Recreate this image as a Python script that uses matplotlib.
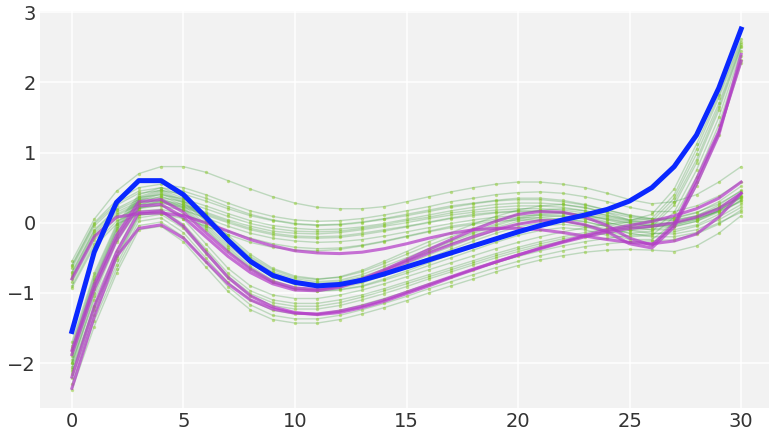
import numpy as np
import matplotlib.pyplot as plt

x = np.arange(31)

upper_samples = [
    [-0.55, 0.05, 0.45, 0.7, 0.8, 0.8, 0.72, 0.6, 0.48, 0.37, 0.28, 0.22, 0.2, 0.2, 0.23, 0.3, 0.37, 0.44, 0.5, 0.55, 0.58, 0.58, 0.55, 0.5, 0.42, 0.33, 0.27, 0.3, 0.4, 0.58, 0.8],
    [-0.6, 0.0, 0.32, 0.5, 0.55, 0.5, 0.4, 0.28, 0.17, 0.09, 0.04, 0.02, 0.03, 0.06, 0.11, 0.17, 0.23, 0.3, 0.35, 0.4, 0.43, 0.44, 0.42, 0.37, 0.3, 0.22, 0.16, 0.16, 0.24, 0.38, 0.58],
    [-0.65, -0.05, 0.25, 0.42, 0.46, 0.41, 0.31, 0.2, 0.1, 0.03, -0.02, -0.04, -0.03, 0.0, 0.05, 0.1, 0.16, 0.22, 0.27, 0.31, 0.33, 0.33, 0.3, 0.25, 0.18, 0.11, 0.06, 0.06, 0.14, 0.3, 0.52],
    [-0.7, -0.1, 0.2, 0.36, 0.4, 0.34, 0.24, 0.13, 0.03, -0.04, -0.08, -0.1, -0.09, -0.06, -0.01, 0.05, 0.11, 0.17, 0.22, 0.26, 0.28, 0.28, 0.26, 0.21, 0.15, 0.08, 0.03, 0.03, 0.1, 0.25, 0.46],
    [-0.75, -0.15, 0.15, 0.3, 0.32, 0.26, 0.15, 0.04, -0.05, -0.12, -0.15, -0.16, -0.14, -0.1, -0.05, 0.0, 0.06, 0.11, 0.15, 0.18, 0.2, 0.2, 0.18, 0.14, 0.08, 0.02, -0.02, -0.01, 0.07, 0.22, 0.42],
    [-0.8, -0.2, 0.1, 0.26, 0.28, 0.22, 0.11, 0.0, -0.1, -0.17, -0.21, -0.22, -0.21, -0.17, -0.12, -0.06, 0.0, 0.06, 0.1, 0.14, 0.16, 0.16, 0.14, 0.1, 0.05, -0.01, -0.05, -0.05, 0.02, 0.17, 0.38],
    [-0.85, -0.25, 0.06, 0.22, 0.24, 0.18, 0.07, -0.05, -0.15, -0.22, -0.26, -0.28, -0.27, -0.24, -0.19, -0.13, -0.07, -0.01, 0.04, 0.08, 0.1, 0.11, 0.09, 0.05, 0.0, -0.06, -0.1, -0.1, -0.03, 0.12, 0.32],
    [-0.9, -0.3, 0.02, 0.17, 0.19, 0.12, 0.0, -0.12, -0.22, -0.3, -0.35, -0.37, -0.36, -0.32, -0.26, -0.19, -0.12, -0.05, 0.0, 0.05, 0.07, 0.07, 0.05, 0.01, -0.05, -0.11, -0.15, -0.16, -0.1, 0.04, 0.22],
    [-0.93, -0.34, -0.02, 0.12, 0.13, 0.06, -0.05, -0.17, -0.28, -0.35, -0.39, -0.4, -0.38, -0.33, -0.27, -0.2, -0.13, -0.07, -0.02, 0.02, 0.04, 0.04, 0.02, -0.03, -0.09, -0.15, -0.2, -0.2, -0.14, 0.0, 0.15],
    [-0.62, -0.02, 0.28, 0.45, 0.5, 0.45, 0.35, 0.23, 0.12, 0.04, -0.01, -0.03, -0.02, 0.01, 0.06, 0.12, 0.18, 0.24, 0.28, 0.32, 0.35, 0.35, 0.32, 0.26, 0.18, 0.1, 0.05, 0.04, 0.1, 0.22, 0.36],
    [-0.72, -0.12, 0.18, 0.33, 0.36, 0.3, 0.2, 0.09, -0.01, -0.08, -0.12, -0.13, -0.12, -0.08, -0.03, 0.03, 0.08, 0.14, 0.18, 0.22, 0.24, 0.24, 0.22, 0.17, 0.11, 0.04, 0.0, 0.0, 0.06, 0.16, 0.3],
    [-0.78, -0.18, 0.12, 0.28, 0.3, 0.24, 0.13, 0.02, -0.08, -0.15, -0.19, -0.2, -0.19, -0.15, -0.1, -0.05, 0.01, 0.07, 0.12, 0.15, 0.17, 0.17, 0.15, 0.11, 0.06, 0.0, -0.04, -0.03, 0.04, 0.18, 0.36],
]

middle_samples = [
    [-1.7, -0.72, -0.02, 0.4, 0.5, 0.38, 0.12, -0.18, -0.45, -0.65, -0.76, -0.8, -0.78, -0.7, -0.58, -0.45, -0.32, -0.2, -0.08, 0.03, 0.12, 0.18, 0.2, 0.17, 0.1, 0.03, 0.12, 0.48, 1.12, 1.82, 2.62],
    [-1.78, -0.8, -0.08, 0.35, 0.45, 0.32, 0.06, -0.24, -0.5, -0.7, -0.8, -0.84, -0.82, -0.74, -0.62, -0.5, -0.37, -0.25, -0.13, -0.02, 0.07, 0.13, 0.15, 0.11, 0.04, -0.04, 0.02, 0.35, 0.98, 1.7, 2.55],
    [-1.85, -0.86, -0.12, 0.31, 0.41, 0.28, 0.02, -0.28, -0.54, -0.74, -0.84, -0.88, -0.86, -0.79, -0.68, -0.55, -0.42, -0.3, -0.18, -0.07, 0.02, 0.08, 0.1, 0.06, -0.02, -0.1, -0.06, 0.25, 0.85, 1.6, 2.5],
    [-1.9, -0.9, -0.16, 0.28, 0.38, 0.25, -0.02, -0.32, -0.58, -0.78, -0.88, -0.91, -0.89, -0.82, -0.71, -0.59, -0.46, -0.34, -0.22, -0.11, -0.02, 0.04, 0.06, 0.02, -0.06, -0.15, -0.12, 0.15, 0.75, 1.5, 2.45],
    [-1.95, -0.95, -0.2, 0.25, 0.35, 0.22, -0.05, -0.35, -0.62, -0.82, -0.92, -0.95, -0.93, -0.86, -0.75, -0.63, -0.5, -0.38, -0.26, -0.15, -0.06, 0.0, 0.02, -0.03, -0.12, -0.2, -0.18, 0.08, 0.65, 1.4, 2.38],
    [-2.0, -1.0, -0.24, 0.22, 0.32, 0.2, -0.08, -0.38, -0.64, -0.84, -0.94, -0.97, -0.95, -0.9, -0.8, -0.69, -0.57, -0.45, -0.33, -0.22, -0.12, -0.05, -0.02, -0.06, -0.14, -0.24, -0.24, 0.0, 0.58, 1.32, 2.32],
    [-1.75, -0.76, -0.05, 0.37, 0.47, 0.35, 0.09, -0.21, -0.48, -0.67, -0.78, -0.81, -0.77, -0.68, -0.55, -0.41, -0.27, -0.14, -0.02, 0.09, 0.18, 0.24, 0.26, 0.22, 0.14, 0.04, 0.06, 0.4, 1.05, 1.78, 2.58],
    [-1.82, -0.83, -0.1, 0.33, 0.43, 0.3, 0.04, -0.26, -0.52, -0.72, -0.83, -0.86, -0.84, -0.77, -0.66, -0.53, -0.4, -0.27, -0.15, -0.04, 0.05, 0.11, 0.13, 0.09, 0.01, -0.07, -0.03, 0.3, 0.9, 1.65, 2.52],
    [-2.05, -1.05, -0.28, 0.2, 0.3, 0.18, -0.1, -0.4, -0.66, -0.85, -0.95, -0.98, -0.96, -0.91, -0.82, -0.72, -0.61, -0.5, -0.39, -0.28, -0.18, -0.11, -0.07, -0.1, -0.18, -0.28, -0.3, -0.05, 0.52, 1.25, 2.28],
]

lower_samples = [
    [-2.0, -1.1, -0.4, 0.2, 0.25, 0.05, -0.3, -0.65, -0.9, -1.03, -1.08, -1.08, -1.03, -0.96, -0.87, -0.77, -0.67, -0.57, -0.47, -0.37, -0.28, -0.2, -0.13, -0.07, -0.02, 0.01, 0.03, 0.07, 0.15, 0.27, 0.45],
    [-2.08, -1.18, -0.47, 0.12, 0.18, -0.02, -0.37, -0.72, -0.97, -1.1, -1.15, -1.15, -1.1, -1.03, -0.94, -0.84, -0.74, -0.64, -0.54, -0.44, -0.35, -0.27, -0.2, -0.14, -0.09, -0.05, -0.03, 0.0, 0.08, 0.2, 0.38],
    [-2.15, -1.25, -0.53, 0.07, 0.12, -0.08, -0.44, -0.79, -1.04, -1.18, -1.23, -1.23, -1.18, -1.1, -1.01, -0.91, -0.8, -0.7, -0.6, -0.5, -0.41, -0.33, -0.26, -0.2, -0.15, -0.11, -0.09, -0.06, 0.02, 0.15, 0.32],
    [-2.22, -1.32, -0.6, 0.02, 0.07, -0.14, -0.5, -0.85, -1.1, -1.25, -1.3, -1.3, -1.25, -1.17, -1.08, -0.98, -0.87, -0.77, -0.67, -0.57, -0.48, -0.4, -0.33, -0.27, -0.22, -0.18, -0.16, -0.13, -0.05, 0.08, 0.26],
    [-2.3, -1.4, -0.66, -0.04, 0.01, -0.2, -0.56, -0.91, -1.17, -1.32, -1.37, -1.37, -1.32, -1.24, -1.15, -1.05, -0.94, -0.84, -0.74, -0.64, -0.55, -0.47, -0.4, -0.34, -0.3, -0.27, -0.26, -0.24, -0.16, -0.02, 0.18],
    [-2.38, -1.48, -0.72, -0.1, -0.05, -0.27, -0.63, -0.98, -1.24, -1.38, -1.43, -1.43, -1.38, -1.3, -1.21, -1.11, -1.0, -0.9, -0.8, -0.7, -0.61, -0.53, -0.47, -0.42, -0.39, -0.38, -0.39, -0.41, -0.33, -0.15, 0.1],
    [-2.12, -1.2, -0.5, 0.1, 0.15, -0.05, -0.4, -0.76, -1.01, -1.14, -1.19, -1.19, -1.14, -1.06, -0.97, -0.87, -0.77, -0.67, -0.57, -0.47, -0.38, -0.3, -0.23, -0.17, -0.12, -0.08, -0.06, -0.03, 0.05, 0.17, 0.35],
]

# highlighted curves (magenta)
highlighted = [
    [-1.82, -0.88, -0.18, 0.3, 0.33, 0.15, -0.14, -0.42, -0.66, -0.84, -0.93, -0.95, -0.9, -0.8, -0.67, -0.53, -0.38, -0.24, -0.1, 0.02, 0.12, 0.16, 0.15, 0.08, -0.04, -0.22, -0.32, -0.02, 0.62, 1.3, 2.3],
    [-1.88, -0.95, -0.25, 0.24, 0.26, 0.08, -0.2, -0.48, -0.71, -0.87, -0.96, -0.97, -0.92, -0.82, -0.69, -0.56, -0.43, -0.31, -0.2, -0.1, -0.02, 0.03, 0.03, -0.03, -0.13, -0.3, -0.36, -0.06, 0.55, 1.25, 2.4],
    [-0.8, -0.2, 0.08, 0.13, 0.14, 0.1, 0.0, -0.12, -0.24, -0.33, -0.4, -0.43, -0.44, -0.42, -0.37, -0.3, -0.22, -0.15, -0.1, -0.08, -0.08, -0.1, -0.14, -0.19, -0.24, -0.28, -0.3, -0.26, -0.16, 0.08, 0.42],
    [-2.36, -1.34, -0.48, -0.08, -0.03, -0.22, -0.55, -0.87, -1.1, -1.23, -1.29, -1.3, -1.26, -1.19, -1.1, -0.99, -0.88, -0.77, -0.66, -0.56, -0.46, -0.37, -0.28, -0.2, -0.13, -0.08, -0.05, 0.0, 0.08, 0.2, 0.42],
    [-2.2, -1.2, -0.42, 0.15, 0.17, -0.05, -0.42, -0.78, -1.04, -1.2, -1.28, -1.31, -1.28, -1.21, -1.12, -1.01, -0.9, -0.78, -0.67, -0.56, -0.46, -0.36, -0.27, -0.18, -0.1, -0.04, 0.02, 0.1, 0.2, 0.35, 0.58],
]

# true curve (blue)
true_curve = [-1.55, -0.42, 0.29, 0.6, 0.6, 0.4, 0.08, -0.25, -0.55, -0.75, -0.85, -0.9, -0.88, -0.82, -0.73, -0.63,
              -0.53, -0.43, -0.33, -0.23, -0.13, -0.04, 0.04, 0.11, 0.19, 0.31, 0.5, 0.8, 1.25, 1.92, 2.76]

fig = plt.figure(figsize=(7.69, 4.34), dpi=100)
ax = fig.add_axes([0.052, 0.06, 0.948, 0.915])
ax.set_facecolor('#f2f2f2')

for s in upper_samples + middle_samples + lower_samples:
    ax.plot(x, s, color='#1f8a1f', alpha=0.25, lw=1)
    ax.plot(x, s, ls='none', marker='o', markersize=2.4, color='#8ac926', alpha=0.5,
            markeredgewidth=0)

for s in highlighted:
    ax.plot(x, s, color='#b43cc8', alpha=0.72, lw=2.2)

ax.plot(x, true_curve, color='#0a28ff', lw=3.6)

ax.set_xlim(-1.43, 31.25)
ax.set_ylim(-2.64, 3.02)
ax.set_xticks([0, 5, 10, 15, 20, 25, 30])
ax.set_yticks([-2, -1, 0, 1, 2, 3])
ax.grid(color='white', lw=1.1)
ax.set_axisbelow(True)
ax.tick_params(length=0, labelsize=14, labelcolor='#333333', pad=3)
for sp in ax.spines.values():
    sp.set_visible(False)

fig.savefig('out.png', dpi=100)
